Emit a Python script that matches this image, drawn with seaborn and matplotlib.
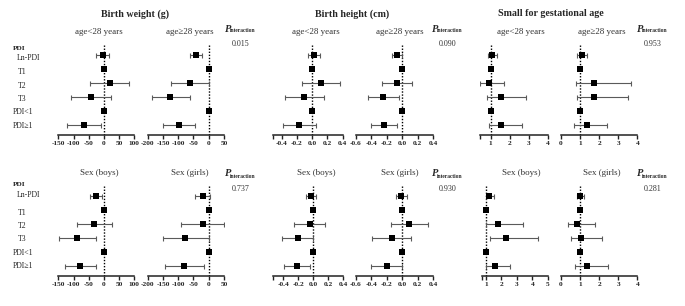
import numpy as np
import matplotlib
matplotlib.use("Agg")
import matplotlib.pyplot as plt
import seaborn as sns

sns.set_theme(style="white")
plt.rcParams['font.family'] = ['Liberation Serif', 'DejaVu Serif']

W, H = 685, 306

# Data: estimates with 95% CI per panel --------------------------------
rows = ["Ln-PDI", "T1", "T2", "T3", "PDI<1", "PDI\u22651"]

# Birth weight (g)
bw_age1_est = [-4, 0, 21, -42, 0, -65]
bw_age1_lo = [-25, 0, -45, -109, 0, -122]
bw_age1_hi = [16, 0, 84, 24, 0, -9]
bw_age2_est = [-42, 0, -61, -126, 0, -96]
bw_age2_lo = [-61, 0, -124, -186, 0, -151]
bw_age2_hi = [-22, 0, 0, -62, 0, -44]
bw_boys_est = [-26, 0, -32, -87, 0, -78]
bw_boys_lo = [-47, 0, -89, -147, 0, -129]
bw_boys_hi = [-7, 0, 26, -26, 0, -26]
bw_girls_est = [-20, 0, -20, -77, 0, -80]
bw_girls_lo = [-44, 0, -91, -151, 0, -142]
bw_girls_hi = [3, 0, 51, 0, 0, -16]

# Birth height (cm)
bh_age1_est = [0.02, 0, 0.11, -0.11, 0, -0.17]
bh_age1_lo = [-0.06, 0, -0.13, -0.36, 0, -0.39]
bh_age1_hi = [0.10, 0, 0.36, 0.15, 0, 0.05]
bh_age2_est = [-0.07, 0, -0.07, -0.25, 0, -0.24]
bh_age2_lo = [-0.14, 0, -0.26, -0.45, 0, -0.41]
bh_age2_hi = [-0.01, 0, 0.13, -0.04, 0, -0.07]
bh_boys_est = [-0.03, 0, -0.04, -0.20, 0, -0.21]
bh_boys_lo = [-0.09, 0, -0.25, -0.41, 0, -0.39]
bh_boys_hi = [0.03, 0, 0.16, 0.0, 0, -0.04]
bh_girls_est = [-0.02, 0, 0.08, -0.14, 0, -0.20]
bh_girls_lo = [-0.08, 0, -0.15, -0.39, 0, -0.40]
bh_girls_hi = [0.06, 0, 0.33, 0.11, 0, 0.0]

# Small for gestational age (OR)
sga_age1_est = [1.09, 1, 0.93, 1.54, 1, 1.54]
sga_age1_lo = [0.88, 1, 0.44, 0.82, 1, 0.93]
sga_age1_hi = [1.33, 1, 1.72, 2.86, 1, 2.63]
sga_age2_est = [1.08, 1, 1.74, 1.71, 1, 1.34]
sga_age2_lo = [0.84, 1, 0.79, 0.82, 1, 0.70]
sga_age2_hi = [1.34, 1, 3.66, 3.52, 1, 2.39]
sga_boys_est = [1.22, 1, 1.76, 2.30, 1, 1.58]
sga_boys_lo = [1.00, 1, 0.98, 1.26, 1, 1.00]
sga_boys_hi = [1.50, 1, 3.38, 4.35, 1, 2.56]
sga_girls_est = [1.00, 1, 0.86, 1.05, 1, 1.34]
sga_girls_lo = [0.83, 1, 0.39, 0.52, 1, 0.73]
sga_girls_hi = [1.22, 1, 1.78, 2.13, 1, 2.44]

titles_top = ["age<28 years", "age\u226528 years"]
titles_bottom = ["Sex (boys)", "Sex (girls)"]
outcomes = ["Birth weight (g)", "Birth height (cm)", "Small for gestational age"]
p_top = ["0.015", "0.090", "0.953"]
p_bottom = ["0.737", "0.930", "0.281"]

bw_ticks = [-150, -100, -50, 0, 50, 100]
bw_ticks2 = [-200, -150, -100, -50, 0, 50]
bh_ticks = [-0.4, -0.2, 0.0, 0.2, 0.4]
bh_ticks2 = [-0.6, -0.4, -0.2, 0.0, 0.2, 0.4]
sga_ticks = [1, 2, 3, 4]
sga_ticks_boys = [1, 2, 3, 4, 5]
sga_ticks2 = [0, 1, 2, 3, 4]

fig = plt.figure(figsize=(W / 100, H / 100), dpi=100)


def px_ax(x0, x1, y0, y1):
    return fig.add_axes([x0 / W, 1 - y1 / H, (x1 - x0) / W, (y1 - y0) / H])


def ftext(x, y, s, **kw):
    fig.text(x / W, 1 - y / H, s, **kw)


def forest(ax, est, lo, hi, ref, xlim, ticks, fmt, end_tick=False):
    est, lo, hi = np.array(est), np.array(lo), np.array(hi)
    ypos = np.arange(len(rows))
    ax.axvline(ref, color='black', ls=(0, (1, 1.2)), lw=1.0, zorder=1)
    m = lo != hi
    ax.errorbar(est[m], ypos[m], xerr=[est[m] - lo[m], hi[m] - est[m]],
                fmt='none', ecolor='#5a5a5a', elinewidth=0.8,
                capsize=1.8, capthick=0.8, zorder=2)
    sns.scatterplot(x=est, y=ypos, marker='s', color='black', s=14,
                    linewidth=0, ax=ax, zorder=3)
    ax.set_xlim(*xlim)
    ax.set_ylim(5.68, -0.7)
    tk = list(ticks)
    labels = [fmt.format(t) for t in ticks]
    if end_tick:
        tk = [xlim[0]] + tk
        labels = [""] + labels
    ax.set_xticks(tk)
    ax.set_xticklabels(labels, fontsize=5.3, fontweight='bold')
    ax.set_yticks([])
    ax.set_xlabel("")
    ax.set_ylabel("")
    for s in ['top', 'right', 'left']:
        ax.spines[s].set_visible(False)
    ax.spines['bottom'].set_color('#222222')
    ax.spines['bottom'].set_linewidth(1.1)
    ax.tick_params(axis='x', direction='out', length=3, width=1.0,
                   color='#222222', pad=1.5, bottom=True)
    ax.set_facecolor('none')


# Top row (age)
yt0, yt1 = 45, 135
ax = px_ax(58.3, 134.3, yt0, yt1)
forest(ax, bw_age1_est, bw_age1_lo, bw_age1_hi, 0, (-150, 100), bw_ticks, "{:d}")
ax = px_ax(147.7, 224, yt0, yt1)
forest(ax, bw_age2_est, bw_age2_lo, bw_age2_hi, 0, (-200, 50), bw_ticks2, "{:d}")
ax = px_ax(272.7, 342.7, yt0, yt1)
forest(ax, bh_age1_est, bh_age1_lo, bh_age1_hi, 0, (-0.52, 0.4), bh_ticks, "{:.1f}", end_tick=True)
ax = px_ax(356, 433.3, yt0, yt1)
forest(ax, bh_age2_est, bh_age2_lo, bh_age2_hi, 0, (-0.6, 0.4), bh_ticks2, "{:.1f}")
ax = px_ax(480, 547.7, yt0, yt1)
forest(ax, sga_age1_est, sga_age1_lo, sga_age1_hi, 1, (0.44, 4), sga_ticks, "{:d}", end_tick=True)
ax = px_ax(561, 637.3, yt0, yt1)
forest(ax, sga_age2_est, sga_age2_lo, sga_age2_hi, 1, (0, 4), sga_ticks2, "{:d}")

# Bottom row (sex)
yb0, yb1 = 186, 276
ax = px_ax(58.3, 134.3, yb0, yb1)
forest(ax, bw_boys_est, bw_boys_lo, bw_boys_hi, 0, (-150, 100), bw_ticks, "{:d}")
ax = px_ax(147.7, 224, yb0, yb1)
forest(ax, bw_girls_est, bw_girls_lo, bw_girls_hi, 0, (-200, 50), bw_ticks2, "{:d}")
ax = px_ax(272.7, 343.3, yb0, yb1)
forest(ax, bh_boys_est, bh_boys_lo, bh_boys_hi, 0, (-0.54, 0.4), bh_ticks, "{:.1f}", end_tick=True)
ax = px_ax(356, 433.3, yb0, yb1)
forest(ax, bh_girls_est, bh_girls_lo, bh_girls_hi, 0, (-0.6, 0.4), bh_ticks2, "{:.1f}")
ax = px_ax(481.7, 547.7, yb0, yb1)
forest(ax, sga_boys_est, sga_boys_lo, sga_boys_hi, 1, (0.72, 5), sga_ticks_boys, "{:d}", end_tick=True)
ax = px_ax(561, 637.3, yb0, yb1)
forest(ax, sga_girls_est, sga_girls_lo, sga_girls_hi, 1, (0, 4), sga_ticks2, "{:d}")

# Outcome headers
for x, t in zip([135, 352, 551], outcomes):
    ftext(x, 14, t, ha='center', va='center', fontsize=7.2, fontweight='bold')

# Subgroup titles
sub_x = [(99, 190), (316, 400), (521, 602)]
for (xa, xb) in sub_x:
    ftext(xa, 32, titles_top[0], ha='center', va='center', fontsize=6.5, color='#333333')
    ftext(xb, 32, titles_top[1], ha='center', va='center', fontsize=6.5, color='#333333')
    ftext(xa, 173, titles_bottom[0], ha='center', va='center', fontsize=6.5, color='#333333')
    ftext(xb, 173, titles_bottom[1], ha='center', va='center', fontsize=6.5, color='#333333')

# P interaction labels
for x, pt, pb in zip([225, 432, 637], p_top, p_bottom):
    for y, pv in [(29, pt), (174, pb)]:
        ftext(x, y, "P", ha='left', va='center', fontsize=7.5, fontweight='bold',
              fontstyle='italic')
        ftext(x + 5, y + 2, "interaction", ha='left', va='center',
              fontsize=4.0, fontweight='bold')
        ftext(x + 16, y + 15, pv, ha='center', va='center', fontsize=5.8, color='#333333')

# Row labels
label_x = [13, 17, 18, 18, 18, 13, 13]
label_top_y = [49, 58, 72, 86, 99, 112, 126]
label_bot_y = [185, 195, 213, 226, 239, 253, 266]
for lx, yt, yb, lab in zip(label_x, label_top_y, label_bot_y, ["PDI"] + rows):
    fw = 'bold' if lab == "PDI" else 'normal'
    fs = 5.2 if lab == "PDI" else 5.6
    for yy in (yt, yb):
        ftext(lx, yy, lab, ha='left', va='center', fontsize=fs, fontweight=fw,
              color='#222222')

fig.savefig("out.png", dpi=100)
